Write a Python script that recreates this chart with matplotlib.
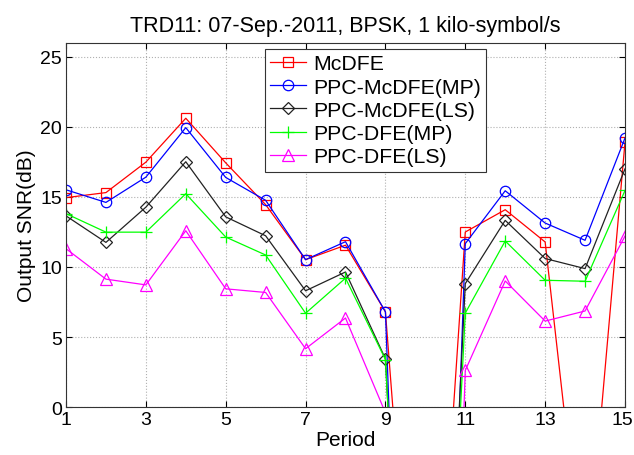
import numpy as np
import matplotlib
matplotlib.use("Agg")
import matplotlib.pyplot as plt
import matplotlib.transforms as mtransforms

plt.rcParams['font.family'] = ['Liberation Sans', 'DejaVu Sans']

# 数据 (period 10 drops far below the axis)
periods = np.arange(1, 16)
mcdfe = [14.94, 15.3, 17.47, 20.6, 17.42, 14.44, 10.52, 11.55, 6.8, -30, 12.49, 14.08, 11.78, -13.5, 18.89]
ppc_mcdfe_mp = [15.5, 14.6, 16.4, 19.93, 16.38, 14.75, 10.52, 11.8, 6.8, -70, 11.66, 15.43, 13.13, 11.9, 19.19]
ppc_mcdfe_ls = [13.64, 11.75, 14.26, 17.5, 13.57, 12.22, 8.3, 9.64, 3.45, -50, 8.81, 13.32, 10.6, 9.88, 16.99]
ppc_dfe_mp = [13.8, 12.48, 12.48, 15.22, 12.13, 10.85, 6.7, 9.2, 3.4, -50, 6.71, 11.85, 9.05, 8.98, 15.45]
ppc_dfe_ls = [11.3, 9.13, 8.72, 12.58, 8.44, 8.18, 4.17, 6.36, -0.4, -80, 2.62, 9.0, 6.14, 6.86, 12.2]

labels = ['McDFE', 'PPC-McDFE(MP)', 'PPC-McDFE(LS)', 'PPC-DFE(MP)', 'PPC-DFE(LS)']
xticks = [1, 3, 5, 7, 9, 11, 13, 15]
yticks = [0, 5, 10, 15, 20, 25]

fig = plt.figure(figsize=(6.34, 4.56), dpi=100)
ax = fig.add_axes([0.1041, 0.1048, 0.8817, 0.7998])

styles = [
    dict(color='#ff0000', marker='s', ms=6.5),
    dict(color='#0000ff', marker='o', ms=7.5),
    dict(color='#222222', marker='D', ms=6.5),
    dict(color='#00ff00', marker='+', ms=8),
    dict(color='#ff00ff', marker='^', ms=8),
]
series = [mcdfe, ppc_mcdfe_mp, ppc_mcdfe_ls, ppc_dfe_mp, ppc_dfe_ls]
for ys, lab, st in zip(series, labels, styles):
    ax.plot(periods, ys, color=st['color'], marker=st['marker'], ms=st['ms'],
            mfc='none', mec=st['color'], mew=0.9, lw=0.9, label=lab)

ax.set_xlim(1, 15)
ax.set_ylim(0, 26)
ax.set_xticks(xticks)
ax.set_yticks(yticks)
ax.grid(True, linestyle=':', color='#b0b0b0', linewidth=0.8)
ax.tick_params(direction='in', top=True, right=True, length=4, labelsize=14, pad=3)
for sp in ax.spines.values():
    sp.set_linewidth(0.8)
    sp.set_color('#333333')

# keep the last x tick label inside the figure
last = ax.get_xticklabels()[-1]
last.set_transform(last.get_transform() +
                   mtransforms.ScaledTranslation(-3 / 100, 0, fig.dpi_scale_trans))

ax.set_title('TRD11: 07-Sep.-2011, BPSK, 1 kilo-symbol/s', fontsize=15.5, pad=8)
ax.set_xlabel('Period', fontsize=15, labelpad=1)
ax.set_ylabel('Output SNR(dB)', fontsize=15, labelpad=3)

leg = ax.legend(loc='upper left', bbox_to_anchor=(0.356, 0.982), borderaxespad=0,
                fontsize=15.3, fancybox=False, framealpha=1, edgecolor='#333333',
                handlelength=1.7, handletextpad=0.3, labelspacing=0.2,
                borderpad=0.25)
leg.get_frame().set_linewidth(0.8)

fig.savefig('out.png', dpi=100)
